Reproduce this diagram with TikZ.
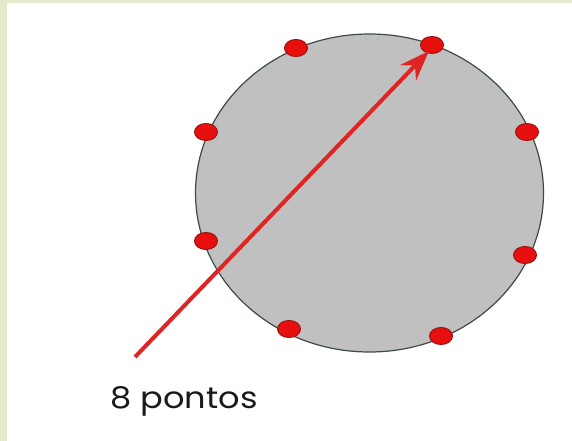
\documentclass[tikz,border=0pt]{standalone}
\usepackage{fontspec}
\setmainfont{Poppins}
\usepackage{xcolor}
\usetikzlibrary{arrows.meta, shapes.geometric}

\definecolor{frame}{HTML}{E4E9CB}
\definecolor{disk}{HTML}{C0C0C0}
\definecolor{rim}{HTML}{3C4A45}
\definecolor{pt}{HTML}{E8100F}
\definecolor{ptedge}{HTML}{9A1212}
\definecolor{arrowred}{HTML}{E02424}

\begin{document}
\begin{tikzpicture}[x=1pt, y=-1pt, >=Stealth,
    dot/.style={ellipse, fill=pt, draw=ptedge, line width=1pt, minimum width=23, minimum height=17, inner sep=0pt},
    pointer/.style={arrowred, line width=4pt, -{Stealth[length=30, width=22]}}]
    \useasboundingbox (0,0) rectangle (572,441);
    \fill[white] (0,0) rectangle (572,441);
    \fill[frame] (0,0) rectangle (7,441);
    \fill[frame] (0,0) rectangle (572,3);

    \node[ellipse, fill=disk, draw=rim, line width=1.2pt, minimum width=348, minimum height=318, inner sep=0pt] (circ) at (369.5,193) {};

    % os oito pontos
    \node[dot] (p1) at (296,48)  {};
    \node[dot] (p2) at (432,45)  {};
    \node[dot] (p3) at (206,132) {};
    \node[dot] (p4) at (527,132) {};
    \node[dot] (p5) at (206,241) {};
    \node[dot] (p6) at (525,255) {};
    \node[dot] (p7) at (289,329) {};
    \node[dot] (p8) at (441,336) {};

    \node[font=\fontsize{30}{34}\selectfont, anchor=base, xscale=1.12, text=black!90] (lbl) at (184,408) {8 pontos};
    \coordinate (start) at (135,357);

    \draw[pointer] (start) -- ([shift={(-3,6)}]p2.center);
\end{tikzpicture}
\end{document}
